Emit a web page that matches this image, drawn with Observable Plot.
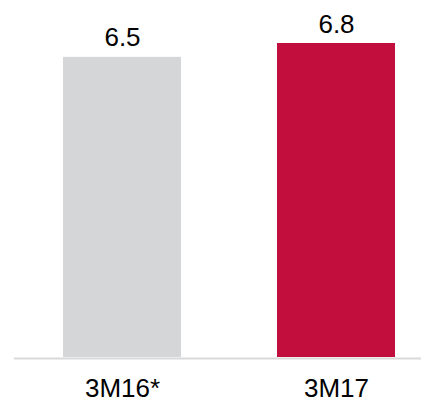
<!DOCTYPE html>
<html>
<head>
<meta charset="utf-8">
<script src="https://cdn.jsdelivr.net/npm/d3@7"></script>
<script src="https://cdn.jsdelivr.net/npm/@observablehq/plot@0.6"></script>
<style>
  html, body { margin: 0; padding: 0; background: #fff; }
  #chart svg { display: block; }
</style>
</head>
<body>
<div id="chart"></div>
<script>
const categories = ["3M16*", "3M17"];
const values = [6.5, 6.8];
const labels = ["6.5", "6.8"];
const colors = ["#d5d6d8", "#c20e3d"];

const data = categories.map((c, i) => ({cat: c, value: values[i], label: labels[i], color: colors[i]}));

const chart = Plot.plot({
  width: 421,
  height: 402,
  marginTop: 43,
  marginBottom: 45,
  marginLeft: 14,
  marginRight: 0,
  style: {fontFamily: "'Liberation Sans', Arial, sans-serif", background: "#fff", color: "#000"},
  x: {domain: categories, range: [62, 396], paddingInner: 0.4465, paddingOuter: 0},
  y: {domain: [0, 6.8], axis: null},
  marks: [
    Plot.barY(data, {x: "cat", y: "value", fill: "color"}),
    Plot.ruleY([0], {stroke: "#d9d9d9", strokeWidth: 2, dy: 1}),
    Plot.text(data, {x: "cat", y: "value", text: "label", lineAnchor: "bottom", dy: -11, fontSize: 26, fill: "#000"}),
    Plot.axisX({tickSize: 0, tickPadding: 21, fontSize: 26, label: null, fill: "#000"})
  ]
});
document.getElementById("chart").appendChild(chart);
</script>
</body>
</html>
